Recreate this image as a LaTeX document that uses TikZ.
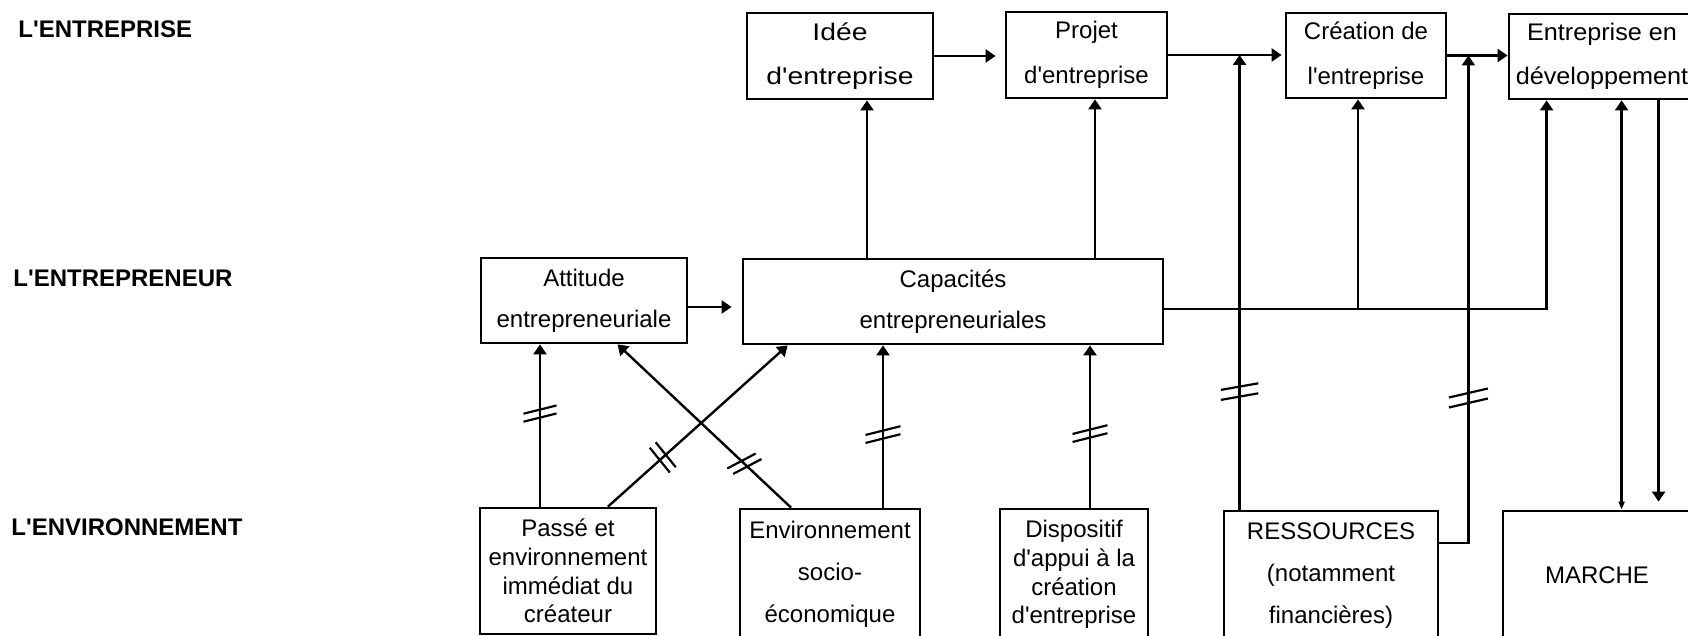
\documentclass[tikz,border=0pt]{standalone}
\usepackage{fontspec}
\setmainfont{Liberation Sans}[Ligatures=TeXOff]
\newfontfamily\widesans[FakeStretch=1.18]{Liberation Sans}
\newfontfamily\semiwide[FakeStretch=1.05]{Liberation Sans}
\usetikzlibrary{arrows.meta,decorations.markings}

\tikzset{
  box/.style={draw, line width=1.4pt, inner sep=1pt, align=center,
              font=\fontsize{12}{22.5}\selectfont},
  lab/.style={anchor=west, inner sep=0pt, font=\bfseries\fontsize{12}{14}\selectfont},
  arr/.style={line width=1.2pt, -{Triangle[length=5pt,width=6.5pt]}},
  % double bar across a link: position, bar angle (relative to the link), half length, half gap
  cut/.style n args={4}{postaction={decorate,decoration={markings,
      mark=at position #1 with {
        \draw[-,line width=1.1pt,shift={(-#4,0pt)},rotate=#2] (-#3,0pt) -- (#3,0pt);
        \draw[-,line width=1.1pt,shift={(#4,0pt)},rotate=#2] (-#3,0pt) -- (#3,0pt);
      }}}},
}

\begin{document}
\begin{tikzpicture}[x=0.5pt,y=-0.5pt]
\useasboundingbox (0,0) rectangle (1688,636);
\clip (0,0) rectangle (1688,636);

% level labels
\node[lab] (lent)  at (18,29)  {L'ENTREPRISE};
\node[lab] (lentr) at (13,278) {L'ENTREPRENEUR};
\node[lab] (lenv)  at (11,527) {L'ENVIRONNEMENT};

% the enterprise
\node[box, minimum width=93pt, minimum height=43pt, font=\widesans\fontsize{12}{22}\selectfont] (idee) at (840,56) {Idée\\d'entreprise};
\node[box, minimum width=80.5pt, minimum height=43pt] (projet) at (1086.5,55) {Projet\\d'entreprise};
\node[box, minimum width=80pt, minimum height=42.5pt] (creation) at (1366,55.5) {Création de\\l'entreprise};
\node[box, minimum width=93pt, minimum height=42.5pt, font=\semiwide\fontsize{12}{22}\selectfont] (dev) at (1602,56.5) {Entreprise en\\développement};

% the entrepreneur
\node[box, minimum width=103pt, minimum height=42.5pt, font=\fontsize{12}{20.5}\selectfont] (attitude) at (584,300.5) {Attitude\\entrepreneuriale};
\node[box, minimum width=210pt, minimum height=42.5pt, font=\fontsize{12}{20.5}\selectfont] (capacites) at (953,301.5) {Capacités\\entrepreneuriales};

% the environment
\node[box, minimum width=88pt, minimum height=63pt, font=\fontsize{12}{14.3}\selectfont] (passe) at (568,571) {Passé et\\environnement\\immédiat du\\créateur};
\node[box, minimum width=90pt, minimum height=65.5pt, font=\fontsize{12}{21}\selectfont] (socio) at (830,574.5) {Environnement\\socio-\\économique};
\node[box, minimum width=74pt, minimum height=65.5pt, font=\fontsize{12}{14.3}\selectfont] (appui) at (1074,574.5) {Dispositif\\d'appui à la\\création\\d'entreprise};
\node[box, minimum width=107pt, minimum height=64.5pt, font=\fontsize{12}{21}\selectfont] (ress) at (1331,575.5) {RESSOURCES\\(notamment\\financières)};
\node[box, minimum width=94pt, minimum height=64.5pt] (marche) at (1597,575.5) {MARCHE};

% chain of the enterprise
\draw[arr, shorten >=4.5pt] (idee.east) -- (idee.east -| projet.west);
\draw[arr, shorten >=1.5pt] (projet.east) -- (projet.east -| creation.west);
\draw[arr] (creation.east) -- (creation.east -| dev.west);

% capacities feed the enterprise
\coordinate (ia) at ([xshift=13.5pt]idee.south);
\draw[arr] (ia |- capacites.north) -- (ia);
\coordinate (pa) at ([xshift=4.25pt]projet.south);
\draw[arr] (pa |- capacites.north) -- (pa);
\coordinate (ac) at ([yshift=-3.25pt]attitude.east);
\draw[arr, shorten >=5pt] (ac) -- (ac -| capacites.west);
\coordinate (cr) at ([yshift=-3.75pt]capacites.east);
\coordinate (da) at ([xshift=19.5pt]dev.south west);
\draw[arr] (cr) -| (da);
\coordinate (ca) at ([xshift=-4pt]creation.south);
\draw[arr] (ca |- cr) -- (ca);

% resources
\coordinate (r1) at ([xshift=8.5pt]ress.north west);
\draw[arr, cut={59pt}{-80}{9.5pt}{2.5pt}] (r1) -- (r1 |- projet.east);
\coordinate (r2) at ([yshift=16.25pt]ress.east);
\coordinate (cx) at ([xshift=10.5pt]creation.east);
\draw[arr, cut={87pt}{-77}{10pt}{2.5pt}] (r2) -| (cx);

% market
\coordinate (m1) at ([xshift=57pt]dev.south west);
\draw[line width=1.2pt, {Triangle[length=4pt,width=3pt]}-{Triangle[length=5pt,width=6.5pt]}] (m1 |- marche.north) -- (m1);
\coordinate (m2) at ([xshift=75.5pt]dev.south west);
\draw[arr, shorten >=4pt] (m2) -- (m2 |- marche.north);

% environment towards the entrepreneur
\coordinate (p1) at ([xshift=-14pt]passe.north);
\draw[arr, cut={46.5pt}{-76}{8.5pt}{2pt}] (p1) -- (p1 |- attitude.south);
\coordinate (p2) at ([xshift=20pt]passe.north);
\coordinate (c1) at ([xshift=23pt]capacites.south west);
\draw[arr, cut={36.8pt}{-93}{8pt}{2pt}] (p2) -- (c1);
\coordinate (s1) at ([xshift=-19.5pt]socio.north);
\coordinate (a1) at ([xshift=69pt]attitude.south west);
\draw[arr, cut={32pt}{-109}{8pt}{2pt}] (s1) -- (a1);
\coordinate (s2) at ([xshift=26.5pt]socio.north);
\draw[arr, cut={36.5pt}{-76}{9pt}{2pt}] (s2) -- (s2 |- capacites.south);
\coordinate (d1) at ([xshift=8pt]appui.north);
\draw[arr, cut={37pt}{-76}{9pt}{2pt}] (d1) -- (d1 |- capacites.south);
\end{tikzpicture}
\end{document}
